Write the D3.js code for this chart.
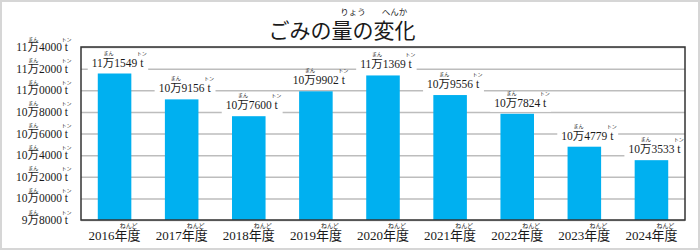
<!doctype html>
<html>
  <head>
    <meta charset="utf-8">
    <title>ごみの量の変化</title>
    <script src="https://cdnjs.cloudflare.com/ajax/libs/d3/7.8.5/d3.min.js"></script>
    <style>
      body { margin: 0; background: #fff; }
      text { font-family: "Liberation Serif", "Noto Sans CJK JP", serif; fill: #1a1a1a; }
      text.ruby { font-family: "Noto Sans CJK JP", sans-serif; }
    </style>
  </head>
  <body>
    <div id="root"></div>
    <script>
      // data
      let years = ["2016", "2017", "2018", "2019", "2020", "2021", "2022", "2023", "2024"];
      let values = [111549, 109156, 107600, 109902, 111369, 109556, 107824, 104779, 103533];
      let yTicks = [98000, 100000, 102000, 104000, 106000, 108000, 110000, 112000, 114000];

      let width = 700, height = 250,
        margin = {top: 47, right: 15, bottom: 30, left: 81};

      let layouts = [];

      let svg = d3.select('#root')
        .append('svg')
        .attr('width', width)
        .attr('height', height);

      // outer border
      svg.append('rect')
        .attr('x', 1).attr('y', 1)
        .attr('width', width - 2).attr('height', height - 2)
        .attr('fill', 'none')
        .attr('stroke', '#d6d6d6')
        .attr('stroke-width', 2);

      let xScale = d3.scaleBand()
        .domain(years)
        .range([margin.left, width - margin.right])
        .paddingInner(0.5)
        .paddingOuter(0.25);

      let yScale = d3.scaleLinear()
        .domain([98000, 114000])
        .range([height - margin.bottom, margin.top]);

      // 11万1549 t
      let fmt = v => Math.floor(v / 10000) + '万' + String(v % 10000).padStart(4, '0') + ' t';

      // text with small furigana over some characters, positioned after measuring
      function rubyText(parent, x, y, str, size, anchor, rubies, rubySize, rubyRise, bg) {
        let g = parent.append('g');
        let back = bg ? g.append('rect').attr('fill', '#fff') : null;
        let t = g.append('text')
          .attr('x', x).attr('y', y)
          .attr('text-anchor', anchor)
          .attr('font-size', size)
          .text(str);
        let rt = rubies.map(r => g.append('text')
          .attr('class', 'ruby')
          .attr('y', y - rubyRise)
          .attr('text-anchor', 'middle')
          .attr('font-size', rubySize)
          .text(r.text));
        layouts.push(() => {
          let node = t.node();
          rubies.forEach((r, k) => {
            let a = node.getStartPositionOfChar(r.from).x;
            let b = node.getEndPositionOfChar(r.to).x;
            rt[k].attr('x', (a + b) / 2 + (r.dx || 0));
          });
          if (back) {
            let bb = node.getBBox();
            back.attr('x', bb.x - 4).attr('y', y - 10)
              .attr('width', bb.width + 8).attr('height', 15);
          }
        });
        return g;
      }

      function manRubies(str) {
        let i = str.indexOf('万');
        return [{from: i, to: i, text: 'まん'}, {from: str.length - 1, to: str.length - 1, text: 'トン'}];
      }

      // gridlines
      let yAxis = d3.axisLeft(yScale)
        .tickValues(yTicks)
        .tickSize(-(width - margin.left - margin.right))
        .tickFormat('');
      let gy = svg.append('g')
        .attr('transform', 'translate(' + margin.left + ',0)')
        .call(yAxis);
      gy.select('.domain').remove();
      gy.selectAll('.tick line').attr('stroke', '#bdbdbd').attr('stroke-width', 1.5);

      // y tick labels
      yTicks.forEach(v => {
        let s = fmt(v);
        rubyText(svg, 68, yScale(v) + 4, s, 11.5, 'end', manRubies(s), 5, 10.5, false);
      });

      // bars
      svg.selectAll('.bar')
        .data(values)
        .enter()
        .append('rect')
        .attr('class', 'bar')
        .attr('x', (d, i) => xScale(years[i]))
        .attr('y', d => yScale(d))
        .attr('width', xScale.bandwidth())
        .attr('height', d => yScale(98000) - yScale(d))
        .attr('fill', '#00b0f0');

      // value labels with white background
      values.forEach((v, i) => {
        let s = fmt(v);
        let cx = xScale(years[i]) + xScale.bandwidth() / 2 + 3;
        rubyText(svg, cx, yScale(v) - 7, s, 11.5, 'middle', manRubies(s), 5, 12, true);
      });

      // plot frame
      svg.append('rect')
        .attr('x', margin.left).attr('y', margin.top)
        .attr('width', width - margin.left - margin.right)
        .attr('height', height - margin.top - margin.bottom)
        .attr('fill', 'none')
        .attr('stroke', '#333')
        .attr('stroke-width', 1.5);

      // x labels
      years.forEach(y => {
        rubyText(svg, xScale(y) + xScale.bandwidth() / 2, 240, y + '年度', 13, 'middle',
          [{from: 4, to: 5, text: 'ねんど', dx: 1}], 6, 12.5, false);
      });

      // title
      rubyText(svg, 342, 38, 'ごみの量の変化', 21, 'middle',
        [{from: 3, to: 3, text: 'りょう', dx: 11}, {from: 5, to: 6, text: 'へんか'}], 8.5, 23, false);

      let layoutAll = () => layouts.forEach(f => f());
      layoutAll();
      document.fonts.ready.then(layoutAll);
      setTimeout(layoutAll, 200);
    </script>
  </body>
</html>
